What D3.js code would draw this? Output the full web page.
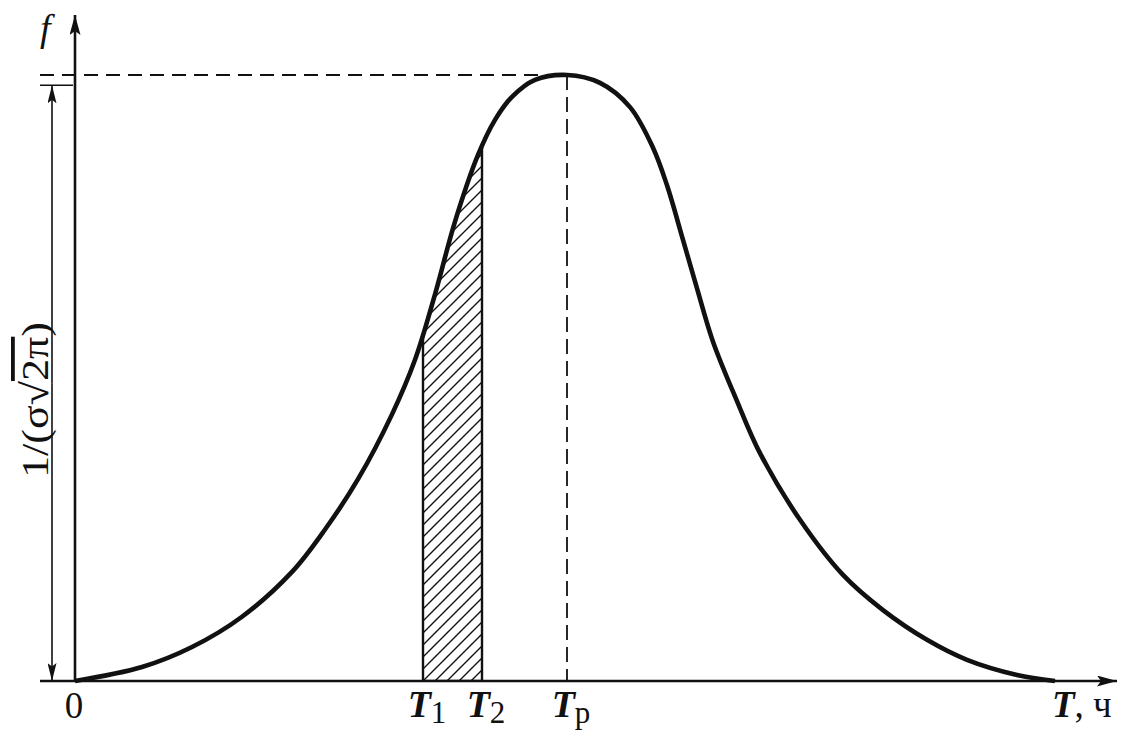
<!DOCTYPE html>
<html>
<head>
<meta charset="utf-8">
<script src="https://cdn.jsdelivr.net/npm/d3@7/dist/d3.min.js"></script>
<style>
  html, body { margin: 0; padding: 0; background: #fff; }
  svg { display: block; }
  text { font-family: "Liberation Serif", "Times New Roman", serif; fill: #111; }
</style>
</head>
<body>
<svg id="chart" width="1141" height="737"></svg>
<script>
// ---- data (T in arbitrary hour units, f normalised to the peak) ----
const curveT = [0, 6.7, 11.7, 16.7, 21.7, 25.0, 28.3, 31.7, 34.0, 36.0, 38.0, 40.3, 42.0, 43.7, 46.0, 49.2,
                52.5, 55.5, 57.8, 59.2, 60.8, 62.2, 63.8, 66.2, 68.5, 72.5, 76.8, 80.8, 85.2, 89.2, 94.2, 98.0];
const curveF = [0, 0.023, 0.056, 0.106, 0.180, 0.250, 0.333, 0.440, 0.530, 0.638, 0.758, 0.868, 0.926, 0.964, 0.992, 1.0,
                0.987, 0.947, 0.880, 0.818, 0.728, 0.648, 0.560, 0.462, 0.376, 0.266, 0.175, 0.117, 0.068, 0.035, 0.010, 0];
const markNames = ["T1", "T2", "Tp"];
const markT = [34.8, 40.7, 49.2];
const markSub = ["1", "2", "p"];
const peakF = 1.0;
const dimF = 0.983;          // level of the dimension arrow
const axisMaxT = 104.2;      // x-axis arrow tip
const axisMinT = -3.5;       // left end of x axis
const axisMaxF = 1.099;      // y-axis arrow tip
const yLabel = ["1/(σ√", "2π", ")"];
const xLabel = ", ч";

// ---- scales ----
const svg = d3.select("#chart");
const x = d3.scaleLinear().domain([0, axisMaxT]).range([75, 1117]);
const y = d3.scaleLinear().domain([0, peakF]).range([681, 75]);

const pts = curveT.map((t, i) => [t, curveF[i]]);
const crv = d3.curveCatmullRom.alpha(0.5);
const line = d3.line().x(d => x(d[0])).y(d => y(d[1])).curve(crv);
const area = d3.area().x(d => x(d[0])).y0(y(0)).y1(d => y(d[1])).curve(crv);

const defs = svg.append("defs");
// hatch pattern
const pat = defs.append("pattern").attr("id", "hatch").attr("patternUnits", "userSpaceOnUse")
  .attr("width", 12).attr("height", 12);
pat.append("path").attr("d", "M-2,14 L14,-2 M-3,3 L3,-3 M9,15 L15,9")
  .attr("stroke", "#111").attr("stroke-width", 1.4).attr("fill", "none");
defs.append("clipPath").attr("id", "under").append("path").attr("d", area(pts));

// arrow markers
function arrowMarker(id, len, half) {
  defs.append("marker").attr("id", id).attr("viewBox", `0 ${-half} ${len} ${2*half}`)
    .attr("refX", len).attr("refY", 0).attr("markerUnits", "userSpaceOnUse")
    .attr("markerWidth", len).attr("markerHeight", 2*half).attr("orient", "auto")
    .append("path").attr("d", `M0,${-half} L${len},0 L0,${half} L${len*0.2},0 Z`).attr("fill", "#111");
}
arrowMarker("axArrow", 20, 5.5);
arrowMarker("dimArrow", 18, 4.5);

// hatched region between T1 and T2
svg.append("rect")
  .attr("x", x(markT[0])).attr("y", y(peakF) - 5)
  .attr("width", x(markT[1]) - x(markT[0])).attr("height", y(0) - y(peakF) + 5)
  .attr("fill", "url(#hatch)").attr("stroke", "#111").attr("stroke-width", 2.4)
  .attr("clip-path", "url(#under)");

// dashed guide lines
svg.append("line").attr("x1", x(axisMinT)).attr("x2", x(markT[2]) - 6)
  .attr("y1", y(peakF)).attr("y2", y(peakF))
  .attr("stroke", "#111").attr("stroke-width", 1.8).attr("stroke-dasharray", "14,8");
svg.append("line").attr("x1", x(markT[2])).attr("x2", x(markT[2]))
  .attr("y1", y(peakF)).attr("y2", y(0))
  .attr("stroke", "#111").attr("stroke-width", 1.8).attr("stroke-dasharray", "15,7");

// dimension line
svg.append("line").attr("x1", x(axisMinT)).attr("x2", x(0) - 2)
  .attr("y1", y(dimF)).attr("y2", y(dimF)).attr("stroke", "#111").attr("stroke-width", 1.6);
const dimX = x(axisMinT) + 12;
svg.append("line").attr("x1", dimX).attr("x2", dimX)
  .attr("y1", (y(0) + y(dimF)) / 2).attr("y2", y(dimF))
  .attr("stroke", "#111").attr("stroke-width", 1.6).attr("marker-end", "url(#dimArrow)");
svg.append("line").attr("x1", dimX).attr("x2", dimX)
  .attr("y1", (y(0) + y(dimF)) / 2).attr("y2", y(0))
  .attr("stroke", "#111").attr("stroke-width", 1.6).attr("marker-end", "url(#dimArrow)");

// axes
svg.append("line").attr("x1", x(0)).attr("x2", x(0)).attr("y1", y(0)).attr("y2", y(axisMaxF))
  .attr("stroke", "#111").attr("stroke-width", 2.6).attr("marker-end", "url(#axArrow)");
svg.append("line").attr("x1", x(axisMinT)).attr("x2", x(axisMaxT)).attr("y1", y(0)).attr("y2", y(0))
  .attr("stroke", "#111").attr("stroke-width", 2.6).attr("marker-end", "url(#axArrow)");

// the distribution curve
svg.append("path").attr("d", line(pts)).attr("fill", "none")
  .attr("stroke", "#111").attr("stroke-width", 4.6).attr("stroke-linejoin", "round");

// labels
svg.append("text").attr("x", 40).attr("y", 41).attr("font-size", 38)
  .attr("font-style", "italic").text("f");

svg.append("text").attr("x", x(0) - 1).attr("y", 718).attr("text-anchor", "middle")
  .attr("font-size", 37).text("0");

markNames.forEach((n, i) => {
  const t = svg.append("text").attr("x", x(markT[i]) + 4).attr("y", 717)
    .attr("text-anchor", "middle").attr("font-size", 38);
  t.append("tspan").attr("font-style", "italic").attr("font-weight", "bold").text("T");
  t.append("tspan").attr("font-size", 31).attr("dy", 6).text(markSub[i]);
});

const xl = svg.append("text").attr("x", 1052).attr("y", 717).attr("font-size", 37);
xl.append("tspan").attr("font-style", "italic").attr("font-weight", "bold").text("T");
xl.append("tspan").text(xLabel);

const yl = svg.append("text").attr("transform", `translate(48,400) rotate(-90)`)
  .attr("text-anchor", "middle").attr("font-size", 38)
  .attr("textLength", 156).attr("lengthAdjust", "spacingAndGlyphs");
yl.append("tspan").text(yLabel[0]);
yl.append("tspan").attr("text-decoration", "overline").text(yLabel[1]);
yl.append("tspan").text(yLabel[2]);
</script>
</body>
</html>
